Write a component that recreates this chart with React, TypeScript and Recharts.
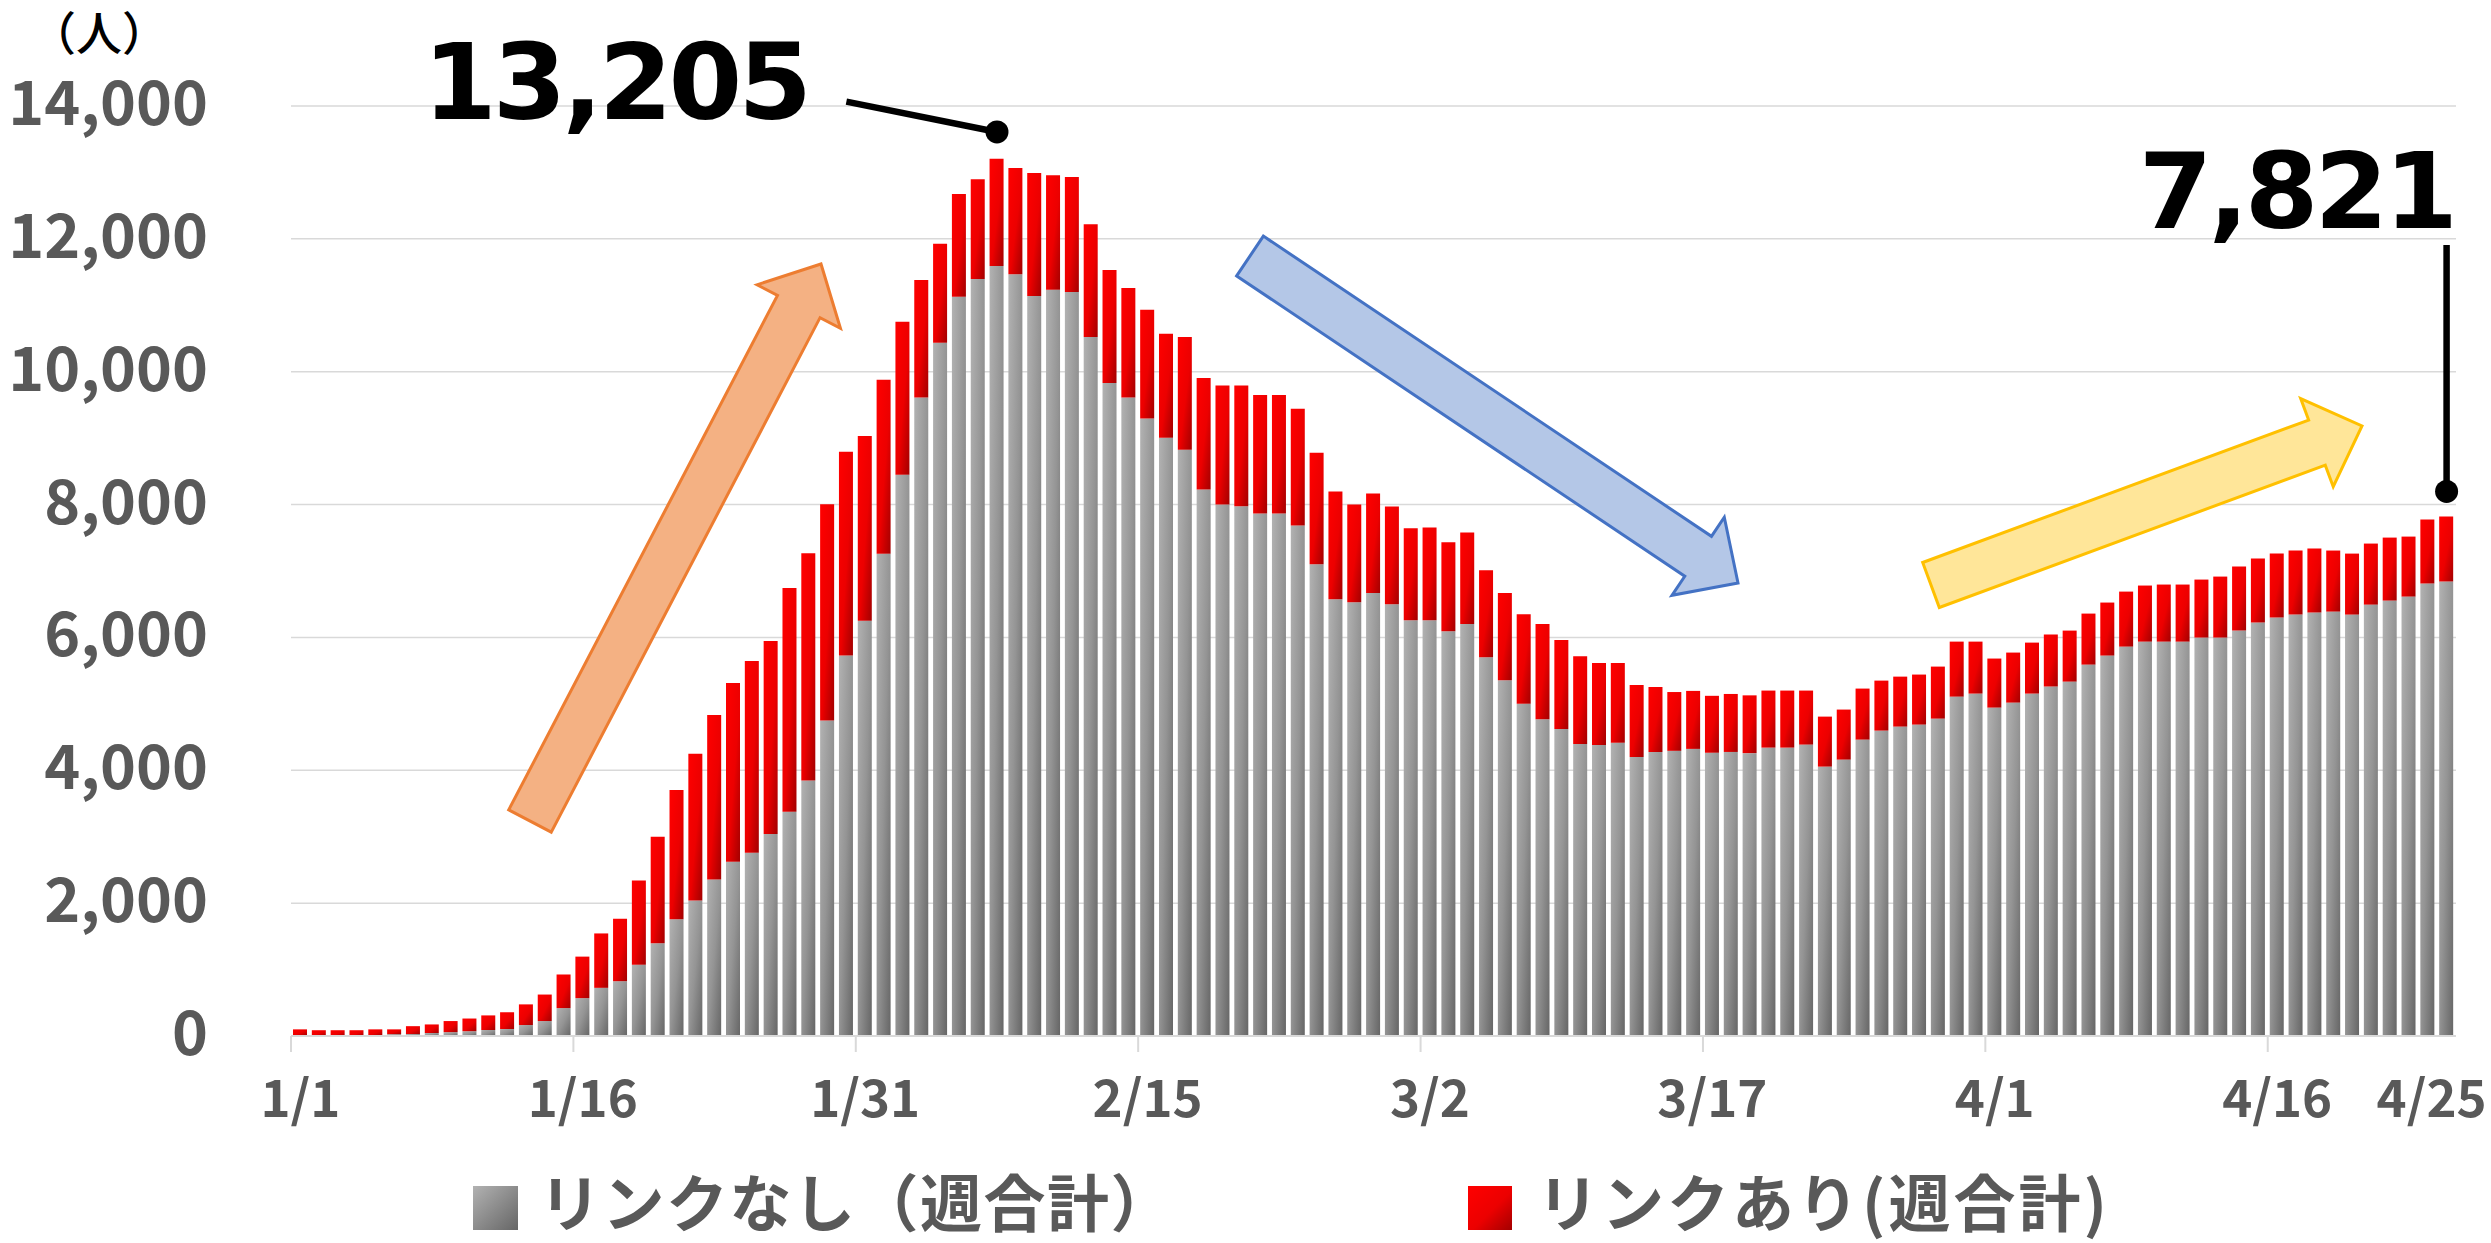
import {
  BarChart,
  Bar,
  XAxis,
  YAxis,
  CartesianGrid,
  ReferenceDot,
  ReferenceLine,
} from "recharts";

// 1/1 .. 4/25, one bar per day (weekly totals)
const monthDays = [31, 28, 31, 25];
const dates: string[] = monthDays.flatMap((n, m) =>
  Array.from({ length: n }, (_, d) => `${m + 1}/${d + 1}`)
);

// リンクなし (grey, bottom)
const linkNone = [
  5, 0, 0, 0, 10, 28, 30, 45, 58, 72, 90, 105, 165, 225, 420, 570, 725, 825, 1074, 1396,
  1758, 2040, 2356, 2624, 2758, 3040, 3376, 3845, 4751, 5728, 6252, 7261, 8449, 9610, 10436, 11127, 11395, 11590, 11469, 11140,
  11234, 11200, 10523, 9831, 9610, 9295, 9006, 8825, 8228, 8000, 7973, 7865, 7865, 7684, 7103, 6575, 6529, 6667, 6500, 6258,
  6258, 6092, 6201, 5701, 5356, 5000, 4770, 4621, 4396, 4379, 4414, 4201, 4276, 4293, 4322, 4264, 4276, 4258, 4341, 4341,
  4387, 4055, 4161, 4462, 4597, 4658, 4688, 4778, 5109, 5154, 4944, 5019, 5154, 5260, 5335, 5591, 5727, 5862, 5937, 5937,
  5937, 5998, 5998, 6103, 6224, 6299, 6344, 6374, 6389, 6344, 6494, 6555, 6615, 6811, 6841,
];

// リンクあり (red, top)
const linkYes = [
  95, 87, 87, 87, 90, 72, 118, 129, 167, 191, 220, 251, 311, 399, 506, 625, 819, 940, 1268, 1604,
  1946, 2208, 2476, 2691, 2886, 2906, 3369, 3423, 3255, 3067, 2781, 2618, 2302, 1772, 1490, 1550, 1504, 1615, 1597, 1852,
  1725, 1732, 1698, 1699, 1651, 1637, 1564, 1698, 1677, 1791, 1818, 1785, 1785, 1758, 1678, 1620, 1471, 1499, 1471, 1386,
  1397, 1339, 1379, 1310, 1311, 1350, 1431, 1339, 1322, 1236, 1201, 1081, 977, 885, 873, 857, 873, 870, 859, 859,
  813, 753, 753, 768, 753, 752, 753, 783, 828, 783, 738, 753, 768, 783, 768, 768, 798, 828, 844, 859,
  859, 873, 918, 964, 963, 963, 964, 964, 919, 918, 919, 948, 903, 963, 980,
];

const yTicks = [0, 2000, 4000, 6000, 8000, 10000, 12000, 14000];
const xLabels = ["1/1", "1/16", "1/31", "2/15", "3/2", "3/17", "4/1", "4/16", "4/25"];

const data = dates.map((date, i) => ({ date, none: linkNone[i], yes: linkYes[i] }));

const W = 2491;
const H = 1243;
const LEFT = 291;
const RIGHT = 35;
const BAND = (W - LEFT - RIGHT) / dates.length;
const JP = '"Noto Sans CJK JP", "Noto Sans", sans-serif';
const GREY_TEXT = "#595959";

// decorative trend arrows (pixel positions, like the shapes pasted on the slide)
const arrows = [
  { tail: [530, 821], tip: [821, 264], fill: "#F4B183", stroke: "#ED7D31" },
  { tail: [1250, 256], tip: [1738, 583], fill: "#B4C7E7", stroke: "#4472C4" },
  { tail: [1931, 585], tip: [2362, 426], fill: "#FFE699", stroke: "#FFC000" },
];

function arrowPoints(tail: number[], tip: number[], shaft = 24, head = 47, headLen = 48) {
  const [tx, ty] = tail;
  const [px, py] = tip;
  const len = Math.hypot(px - tx, py - ty);
  const ux = (px - tx) / len;
  const uy = (py - ty) / len;
  const nx = -uy;
  const ny = ux;
  const bx = px - ux * headLen;
  const by = py - uy * headLen;
  const pts = [
    [tx + nx * shaft, ty + ny * shaft],
    [bx + nx * shaft, by + ny * shaft],
    [bx + nx * head, by + ny * head],
    [px, py],
    [bx - nx * head, by - ny * head],
    [bx - nx * shaft, by - ny * shaft],
    [tx - nx * shaft, ty - ny * shaft],
  ];
  return pts.map((p) => p.join(",")).join(" ");
}

function XTick(props: any) {
  const { x, y, payload } = props;
  const last = payload.value === "4/25";
  return (
    <g>
      {!last && (
        <line x1={x - BAND / 2} x2={x - BAND / 2} y1={y} y2={y + 16} stroke="#d9d9d9" strokeWidth={2} />
      )}
      <text
        x={last ? x - 15 : x}
        y={y + 81}
        textAnchor="middle"
        fill={GREY_TEXT}
        fontSize={51}
        fontWeight={700}
        fontFamily={JP}
      >
        {payload.value}
      </text>
    </g>
  );
}

function YTick(props: any) {
  const { x, y, payload } = props;
  return (
    <text x={x} y={y + 19} textAnchor="end" fill={GREY_TEXT} fontSize={61} fontWeight={700} fontFamily={JP}>
      {Number(payload.value).toLocaleString("en-US")}
    </text>
  );
}

export default function App() {
  return (
    <div style={{ position: "absolute", left: 0, top: 0, width: W, height: H, background: "#fff" }}>
      <BarChart
        width={W}
        height={H}
        data={data}
        margin={{ top: 106, right: RIGHT, bottom: 87, left: 0 }}
      >
        <defs>
          <linearGradient id="gGrey" x1="0" y1="0" x2="1" y2="1">
            <stop offset="0%" stopColor="#b2b2b2" />
            <stop offset="50%" stopColor="#949494" />
            <stop offset="100%" stopColor="#666666" />
          </linearGradient>
          <linearGradient id="gRed" x1="0" y1="0" x2="1" y2="1">
            <stop offset="0%" stopColor="#ff0000" />
            <stop offset="55%" stopColor="#ec0000" />
            <stop offset="100%" stopColor="#a30000" />
          </linearGradient>
        </defs>
        <CartesianGrid vertical={false} stroke="#d9d9d9" strokeWidth={1.5} />
        <XAxis
          dataKey="date"
          ticks={xLabels}
          interval={0}
          height={120}
          tickSize={0}
          tickMargin={0}
          axisLine={{ stroke: "#d9d9d9", strokeWidth: 2 }}
          tickLine={false}
          tick={<XTick />}
        />
        <YAxis
          domain={[0, 14000]}
          ticks={yTicks}
          width={LEFT}
          tickSize={0}
          tickMargin={83}
          axisLine={false}
          tickLine={false}
          tick={<YTick />}
        />
        <Bar dataKey="none" stackId="s" fill="url(#gGrey)" barSize={14} isAnimationActive={false} />
        <Bar dataKey="yes" stackId="s" fill="url(#gRed)" barSize={14} isAnimationActive={false} />
        <ReferenceLine
          segment={[
            { x: dates[29], y: 14065 },
            { x: dates[37], y: 13609 },
          ]}
          stroke="#000"
          strokeWidth={6.5}
          ifOverflow="visible"
        />
        <ReferenceDot x={dates[37]} y={13609} r={11.5} fill="#000" stroke="none" ifOverflow="visible" />
        <ReferenceLine
          segment={[
            { x: dates[114], y: 11909 },
            { x: dates[114], y: 8197 },
          ]}
          stroke="#000"
          strokeWidth={6.5}
          ifOverflow="visible"
        />
        <ReferenceDot x={dates[114]} y={8197} r={11.5} fill="#000" stroke="none" ifOverflow="visible" />
      </BarChart>

      <svg
        width={W}
        height={H}
        style={{ position: "absolute", left: 0, top: 0, pointerEvents: "none" }}
      >
        <defs>
          <linearGradient id="lgGrey" x1="0" y1="0" x2="1" y2="1">
            <stop offset="0%" stopColor="#b2b2b2" />
            <stop offset="100%" stopColor="#666666" />
          </linearGradient>
          <linearGradient id="lgRed" x1="0" y1="0" x2="1" y2="1">
            <stop offset="0%" stopColor="#ff0000" />
            <stop offset="55%" stopColor="#ec0000" />
            <stop offset="100%" stopColor="#a30000" />
          </linearGradient>
        </defs>

        <text x={30} y={50} fontSize={46} fontWeight={500} fontFamily={JP} fill="#000">
          （人）
        </text>

        {arrows.map((a, i) => (
          <polygon
            key={i}
            points={arrowPoints(a.tail, a.tip)}
            fill={a.fill}
            stroke={a.stroke}
            strokeWidth={3}
            strokeLinejoin="miter"
          />
        ))}

        <text
          x={423}
          y={119}
          fontSize={106}
          fontWeight={700}
          fontFamily='"DejaVu Sans", sans-serif'
          letterSpacing={-4}
          fill="#000"
        >
          13,205
        </text>
        <text
          x={2454}
          y={228}
          textAnchor="end"
          fontSize={106}
          fontWeight={700}
          fontFamily='"DejaVu Sans", sans-serif'
          letterSpacing={-4}
          fill="#000"
        >
          7,821
        </text>

        <rect x={473} y={1186} width={45} height={44} fill="url(#lgGrey)" />
        <text x={539} y={1227} fontSize={62} fontWeight={700} fontFamily={JP} fill={GREY_TEXT} letterSpacing={1.5}>
          リンクなし（週合計）
        </text>
        <rect x={1468} y={1186} width={44} height={44} fill="url(#lgRed)" />
        <text x={1537} y={1227} fontSize={62} fontWeight={700} fontFamily={JP} fill={GREY_TEXT} letterSpacing={3}>
          リンクあり(週合計)
        </text>
      </svg>
    </div>
  );
}
